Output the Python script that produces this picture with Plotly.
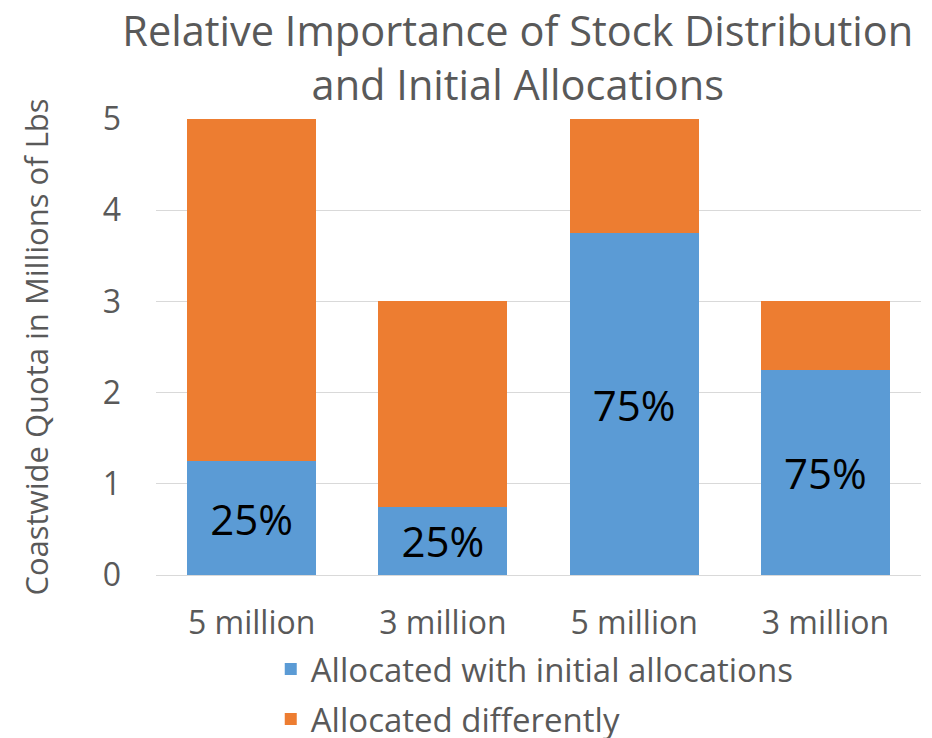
"""Stacked bar: relative importance of stock distribution and initial allocations."""

import plotly.graph_objects as go

CATEGORIES = ["5 million", "3 million", "5 million", "3 million"]
INITIAL = [1.25, 0.75, 3.75, 2.25]
DIFFERENT = [3.75, 2.25, 1.25, 0.75]
INITIAL_LABELS = ["25%", "25%", "75%", "75%"]

BLUE = "#5B9BD5"
ORANGE = "#ED7D31"
GREY = "#595959"
FONT = "Open Sans"

positions = list(range(len(CATEGORIES)))

fig = go.Figure()
fig.add_trace(
    go.Bar(
        x=positions,
        y=INITIAL,
        name="Allocated with initial allocations",
        marker=dict(color=BLUE, line=dict(width=0)),
        text=INITIAL_LABELS,
        textposition="inside",
        insidetextanchor="middle",
        textangle=0,
        textfont=dict(family=FONT, size=42, color="black"),
        width=0.675,
        legendgroup="a",
    )
)
fig.add_trace(
    go.Bar(
        x=positions,
        y=DIFFERENT,
        name="Allocated differently",
        marker=dict(color=ORANGE, line=dict(width=0)),
        width=0.675,
        legendgroup="b",
    )
)

# page body adds an 8px offset; figure is a bit taller than the window so
# the legend has room below without squeezing the plot area
fig.update_layout(
    barmode="stack",
    width=932,
    height=780,
    paper_bgcolor="white",
    plot_bgcolor="white",
    margin=dict(l=148, r=19, t=111, b=213),
    font=dict(family=FONT, color=GREY),
    title=dict(
        text="Relative Importance of Stock Distribution<br>and Initial Allocations",
        x=0.547,
        xanchor="center",
        y=0.9513,
        yanchor="top",
        font=dict(family=FONT, size=41.5, color=GREY),
    ),
    xaxis=dict(
        tickvals=positions,
        ticktext=CATEGORIES,
        range=[-0.5, len(CATEGORIES) - 0.5],
        showgrid=False,
        zeroline=False,
        showline=False,
        tickfont=dict(size=32, color=GREY),
        ticklabelstandoff=26,
    ),
    yaxis=dict(
        range=[0, 5],
        tickvals=[0, 1, 2, 3, 4, 5],
        showgrid=True,
        gridcolor="#D9D9D9",
        gridwidth=1,
        zeroline=True,
        zerolinecolor="#D9D9D9",
        zerolinewidth=1,
        showline=False,
        tickfont=dict(size=32, color=GREY),
        ticklabelstandoff=34,
        title=dict(
            text="Coastwide Quota in Millions of Lbs",
            font=dict(size=31, color=GREY),
            standoff=44,
        ),
    ),
    legend=dict(
        orientation="v",
        x=0.15,
        xanchor="left",
        y=-0.145,
        yanchor="top",
        traceorder="grouped",
        tracegroupgap=4,
        font=dict(size=33, color=GREY),
        bgcolor="rgba(0,0,0,0)",
    ),
    showlegend=True,
)

fig.write_html("out.html")
